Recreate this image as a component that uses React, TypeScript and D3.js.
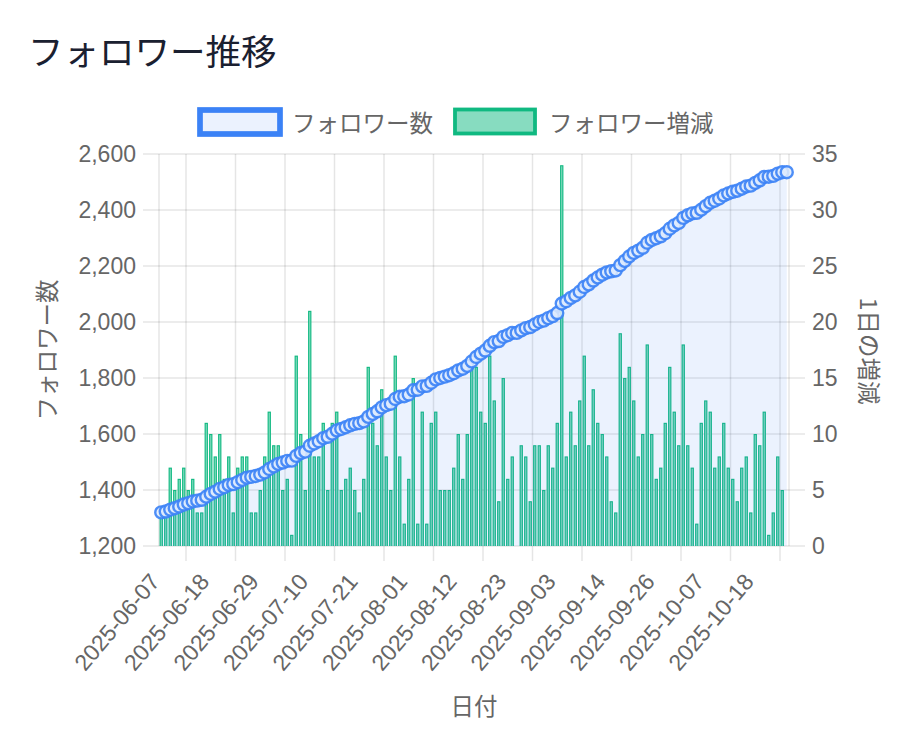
import React from 'react';
import * as d3 from 'd3';

const dates: string[] = [
  '2025-06-07','2025-06-08','2025-06-09','2025-06-10','2025-06-11','2025-06-12','2025-06-13','2025-06-14','2025-06-15','2025-06-16',
  '2025-06-17','2025-06-18','2025-06-19','2025-06-20','2025-06-21','2025-06-22','2025-06-23','2025-06-24','2025-06-25','2025-06-26',
  '2025-06-27','2025-06-28','2025-06-29','2025-06-30','2025-07-01','2025-07-02','2025-07-03','2025-07-04','2025-07-05','2025-07-06',
  '2025-07-07','2025-07-08','2025-07-09','2025-07-10','2025-07-11','2025-07-12','2025-07-13','2025-07-14','2025-07-15','2025-07-16',
  '2025-07-17','2025-07-18','2025-07-19','2025-07-20','2025-07-21','2025-07-22','2025-07-23','2025-07-24','2025-07-25','2025-07-26',
  '2025-07-27','2025-07-28','2025-07-29','2025-07-30','2025-07-31','2025-08-01','2025-08-02','2025-08-03','2025-08-04','2025-08-05',
  '2025-08-06','2025-08-07','2025-08-08','2025-08-09','2025-08-10','2025-08-11','2025-08-12','2025-08-13','2025-08-14','2025-08-15',
  '2025-08-16','2025-08-17','2025-08-18','2025-08-19','2025-08-20','2025-08-21','2025-08-22','2025-08-23','2025-08-24','2025-08-25',
  '2025-08-26','2025-08-27','2025-08-28','2025-08-29','2025-08-30','2025-08-31','2025-09-01','2025-09-02','2025-09-03','2025-09-04',
  '2025-09-05','2025-09-06','2025-09-07','2025-09-08','2025-09-09','2025-09-10','2025-09-11','2025-09-12','2025-09-13','2025-09-14',
  '2025-09-15','2025-09-16','2025-09-17','2025-09-18','2025-09-19','2025-09-20','2025-09-22','2025-09-23','2025-09-24','2025-09-25',
  '2025-09-26','2025-09-27','2025-09-28','2025-09-29','2025-09-30','2025-10-01','2025-10-02','2025-10-03','2025-10-04','2025-10-05',
  '2025-10-06','2025-10-07','2025-10-08','2025-10-09','2025-10-10','2025-10-11','2025-10-12','2025-10-13','2025-10-14','2025-10-15',
  '2025-10-16','2025-10-17','2025-10-18','2025-10-19','2025-10-20','2025-10-21','2025-10-22','2025-10-23','2025-10-24','2025-10-25',
];

const followers: number[] = [
  1320,1323,1330,1335,1341,1348,1353,1359,1362,1365,
  1376,1386,1394,1404,1410,1418,1421,1428,1436,1444,
  1447,1450,1455,1463,1475,1484,1493,1498,1504,1505,
  1522,1532,1537,1558,1566,1574,1585,1590,1601,1613,
  1618,1624,1631,1636,1639,1645,1661,1672,1681,1695,
  1703,1708,1725,1733,1735,1741,1756,1758,1770,1772,
  1783,1795,1800,1805,1810,1817,1827,1833,1843,1859,
  1875,1887,1898,1915,1928,1932,1947,1953,1961,1961,
  1970,1978,1982,1991,2000,2005,2014,2021,2032,2066,
  2074,2086,2095,2108,2125,2134,2148,2159,2169,2177,
  2181,2184,2203,2218,2234,2247,2255,2265,2283,2293,
  2299,2306,2317,2333,2345,2354,2372,2381,2388,2390,
  2401,2414,2426,2433,2441,2452,2459,2465,2469,2476,
  2484,2487,2497,2506,2518,2519,2522,2530,2535,2535,
];

const dailyChange: number[] = [
  3,3,7,5,6,7,5,6,3,3,
  11,10,8,10,6,8,3,7,8,8,
  3,3,5,8,12,9,9,5,6,1,
  17,10,5,21,8,8,11,5,11,12,
  5,6,7,5,3,6,16,11,9,14,
  8,5,17,8,2,6,15,2,12,2,
  11,12,5,5,5,7,10,6,10,16,
  16,12,11,17,13,4,15,6,8,0,
  9,8,4,9,9,5,9,7,11,34,
  8,12,9,13,17,9,14,11,10,8,
  4,3,19,15,16,13,8,10,18,10,
  6,7,11,16,12,9,18,9,7,2,
  11,13,12,7,8,11,7,6,4,7,
  8,3,10,9,12,1,3,8,5,0,
];

const followerTicks: number[] = [1200, 1400, 1600, 1800, 2000, 2200, 2400, 2600];
const changeTicks: number[] = [0, 5, 10, 15, 20, 25, 30, 35];
const xTickLabels: string[] = [
  '2025-06-07','2025-06-18','2025-06-29','2025-07-10','2025-07-21','2025-08-01','2025-08-12',
  '2025-08-23','2025-09-03','2025-09-14','2025-09-26','2025-10-07','2025-10-18',
];

const W = 910;
const H = 732;
const PL = 159, PR = 789, PT = 154, PB = 546;
const LATIN = "'Liberation Sans', Arial, 'Noto Sans CJK JP', sans-serif";
const JP = "'Noto Sans CJK JP', 'Liberation Sans', sans-serif";
const GRID = 'rgba(0,0,0,0.1)';
const TXT = '#666';
const BLUE = '#3b82f6';
const GREEN = '#10b981';

export default function App() {
  const x = d3.scaleBand<string>().domain(dates).range([PL, PR]).padding(0);
  const bw = x.bandwidth();
  const cx = (d: string) => (x(d) ?? 0) + bw / 2;
  const yL = d3.scaleLinear().domain([1200, 2600]).range([PB, PT]);
  const yR = d3.scaleLinear().domain([0, 35]).range([PB, PT]);
  const fmt = d3.format(',');

  const area = d3.area<number>()
    .x((_, i) => cx(dates[i]))
    .y0(PB)
    .y1((v) => yL(v))
    .curve(d3.curveMonotoneX);
  const line = d3.line<number>()
    .x((_, i) => cx(dates[i]))
    .y((v) => yL(v))
    .curve(d3.curveMonotoneX);

  const labelX = xTickLabels.map(cx);
  const gridX = labelX.slice(1).map((v, k) => (v + labelX[k]) / 2);
  const n = labelX.length;
  gridX.push(labelX[n - 1] + (labelX[n - 1] - labelX[n - 2]) / 2);

  const barW = bw * 0.74;

  return (
    <svg width={W} height={H} style={{ position: 'absolute', left: 0, top: 0, background: '#fff' }}>
      <rect x={0} y={0} width={W} height={H} fill="#fff" />
      <text x={28} y={49} dominantBaseline="central" fontFamily={JP} fontSize={35.5} fontWeight={400} fill="#1a2030">
        フォロワー推移
      </text>

      {/* legend */}
      <rect x={200} y={110} width={80} height={24} fill="#ebf2fe" stroke={BLUE} strokeWidth={5.7} />
      <text x={292} y={122} dominantBaseline="central" fontFamily={JP} fontSize={23.5} fill={TXT}>フォロワー数</text>
      <rect x={455} y={109.5} width={80} height={24} fill="rgba(16,185,129,0.5)" stroke={GREEN} strokeWidth={3.8} />
      <text x={549} y={122} dominantBaseline="central" fontFamily={JP} fontSize={23.5} fill={TXT}>フォロワー増減</text>

      {/* horizontal grid */}
      {followerTicks.map((t) => (
        <line key={'h' + t} x1={143} x2={805} y1={yL(t)} y2={yL(t)} stroke={GRID} strokeWidth={1.5} />
      ))}
      {/* vertical grid + ticks */}
      <line x1={PL} x2={PL} y1={PT} y2={PB} stroke={GRID} strokeWidth={1.5} />
      <line x1={PR} x2={PR} y1={PT} y2={PB} stroke={GRID} strokeWidth={1.5} />
      {gridX.map((gx, i) => (
        <line key={'v' + i} x1={gx} x2={gx} y1={PT} y2={561} stroke={GRID} strokeWidth={1.5} />
      ))}

      {/* bars */}
      {dailyChange.map((v, i) => {
        if (v <= 0) return null;
        const y0 = yR(v);
        const bx = cx(dates[i]) - barW / 2;
        return (
          <g key={'b' + i}>
            <rect x={bx} y={y0} width={barW} height={PB - y0} fill={GREEN} />
            <rect x={bx + 1.1} y={y0 + 1.1} width={barW - 2.2} height={PB - y0 - 1.1} fill="#88dcc0" />
          </g>
        );
      })}

      {/* line dataset */}
      <path d={area(followers) ?? ''} fill="rgba(59,130,246,0.1)" />
      <path d={line(followers) ?? ''} fill="none" stroke={BLUE} strokeWidth={4} />
      {followers.map((v, i) => (
        <circle key={'p' + i} cx={cx(dates[i])} cy={yL(v)} r={6} fill="rgba(225,236,253,0.85)" stroke={BLUE} strokeOpacity={0.9} strokeWidth={2.4} />
      ))}

      {/* left ticks */}
      {followerTicks.map((t) => (
        <text key={'lt' + t} x={136} y={yL(t)} textAnchor="end" dominantBaseline="central" fontFamily={LATIN} fontSize={23} fill={TXT}>
          {fmt(t)}
        </text>
      ))}
      {/* right ticks */}
      {changeTicks.map((t) => (
        <text key={'rt' + t} x={812} y={yR(t)} textAnchor="start" dominantBaseline="central" fontFamily={LATIN} fontSize={23} fill={TXT}>
          {t}
        </text>
      ))}
      {/* x tick labels */}
      {xTickLabels.map((d, i) => {
        const tx = labelX[i] - 6.5;
        const ty = 577;
        return (
          <text key={'xt' + d} x={tx} y={ty} textAnchor="end" dominantBaseline="central" fontFamily={LATIN} fontSize={23} fill={TXT}
            transform={`rotate(-50, ${tx}, ${ty})`}>
            {d}
          </text>
        );
      })}

      {/* axis titles */}
      <text x={46} y={350} textAnchor="middle" dominantBaseline="central" fontFamily={JP} fontSize={23.5} fill={TXT}
        transform="rotate(-90, 46, 350)">フォロワー数</text>
      <text x={870} y={351} textAnchor="middle" dominantBaseline="central" fontFamily={JP} fontSize={23.5} fill={TXT}
        transform="rotate(90, 870, 351)">1日の増減</text>
      <text x={474} y={705} textAnchor="middle" dominantBaseline="central" fontFamily={JP} fontSize={23.5} fill={TXT}>日付</text>
    </svg>
  );
}
